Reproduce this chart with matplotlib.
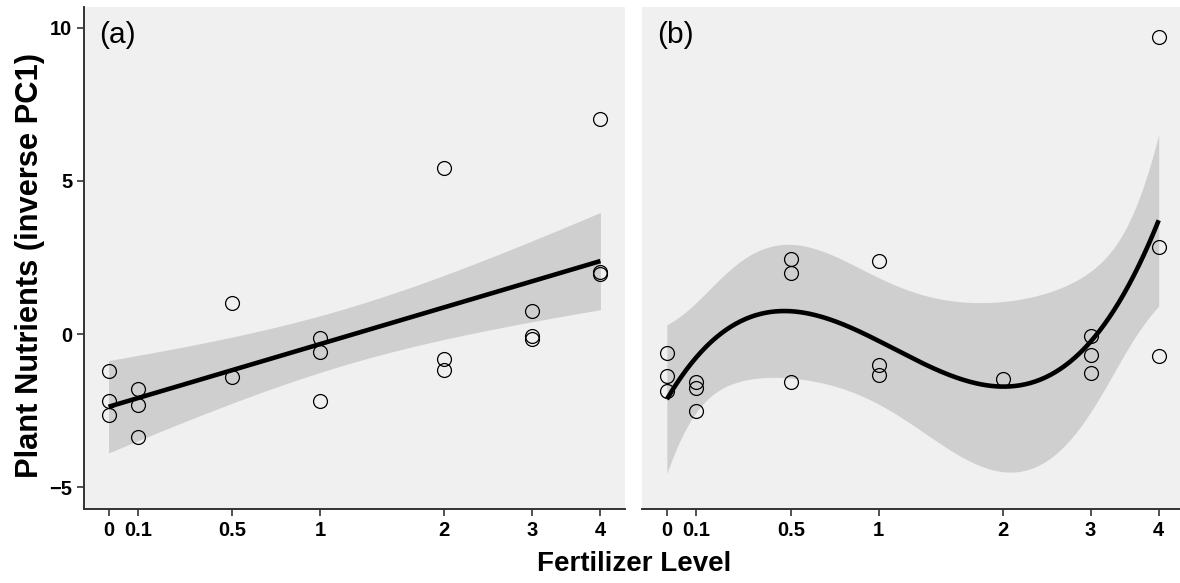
import math
import numpy as np
import matplotlib
matplotlib.use("Agg")
import matplotlib.pyplot as plt

# Fertilizer levels and plant nutrient scores (inverse PC1) for each panel
fert_a = [0, 0, 0, 0.1, 0.1, 0.1, 0.5, 0.5, 1, 1, 1, 2, 2, 2, 3, 3, 3, 4, 4, 4]
nutr_a = [-1.20, -2.18, -2.63, -1.80, -2.30, -3.35, 1.02, -1.41,
          -0.12, -0.57, -2.17, 5.41, -0.81, -1.16, 0.75, -0.07, -0.15,
          7.02, 2.02, 1.95]

fert_b = [0, 0, 0, 0.1, 0.1, 0.1, 0.5, 0.5, 0.5, 1, 1, 1, 2, 3, 3, 3, 4, 4, 4]
nutr_b = [-0.61, -1.36, -1.86, -1.58, -1.77, -2.50, 2.44, 2.00, -1.56,
          2.38, -1.01, -1.32, -1.48, -0.07, -0.67, -1.27, 9.71, 2.83, -0.73]

x_ticks = [0, 0.1, 0.5, 1, 2, 3, 4]
x_tick_labels = ["0", "0.1", "0.5", "1", "2", "3", "4"]
y_ticks = [-5, 0, 5, 10]
panel_labels = ["(a)", "(b)"]


def t_quantile(p, df):
    """Quantile of Student's t via numeric CDF and bisection."""
    c = math.gamma((df + 1) / 2) / (math.sqrt(df * math.pi) * math.gamma(df / 2))

    def cdf(t):
        xs = np.linspace(0, t, 4001)
        pdf = c * (1 + xs ** 2 / df) ** (-(df + 1) / 2)
        return 0.5 + np.trapezoid(pdf, xs)

    lo, hi = 0.0, 20.0
    for _ in range(80):
        mid = (lo + hi) / 2
        if cdf(mid) < p:
            lo = mid
        else:
            hi = mid
    return (lo + hi) / 2


def poly_fit_band(x, y, degree, grid):
    """OLS polynomial fit on log1p(x) with a 95% confidence band."""
    u = np.log1p(np.asarray(x, float))
    y = np.asarray(y, float)
    ug = np.log1p(grid)
    X = np.vander(u, degree + 1, increasing=True)
    Xg = np.vander(ug, degree + 1, increasing=True)
    beta, *_ = np.linalg.lstsq(X, y, rcond=None)
    resid = y - X @ beta
    df = len(y) - (degree + 1)
    s2 = resid @ resid / df
    cov = s2 * np.linalg.inv(X.T @ X)
    fit = Xg @ beta
    se = np.sqrt(np.einsum("ij,jk,ik->i", Xg, cov, Xg))
    tq = t_quantile(0.975, df)
    return fit, fit - tq * se, fit + tq * se


plt.rcParams["font.family"] = ["Liberation Sans", "DejaVu Sans"]

fig = plt.figure(figsize=(11.8, 5.83), dpi=100)
W, H = 1180, 583
ax_w = 541 / W
ax_b = (H - 509.3) / H
ax_h = (509.3 - 7.3) / H
ax_a = fig.add_axes([84 / W, ax_b, ax_w, ax_h])
ax_bb = fig.add_axes([642.3 / W, ax_b, ax_w, ax_h])

u_max = math.log1p(4)
pad = 0.05 * u_max
xlim = (math.expm1(-pad), math.expm1(u_max + pad))
grid = np.expm1(np.linspace(0, u_max, 300))

panel_bg = "#f0f0f0"
band_col = "#cfcfcf"
tick_fs = 14.5

for ax, fx, ny, deg, lab in [(ax_a, fert_a, nutr_a, 1, panel_labels[0]),
                             (ax_bb, fert_b, nutr_b, 3, panel_labels[1])]:
    ax.set_xscale("function", functions=(np.log1p, np.expm1))
    ax.set_facecolor(panel_bg)
    fit, lo, hi = poly_fit_band(fx, ny, deg, grid)
    ax.fill_between(grid, lo, hi, color=band_col, lw=0, zorder=1)
    ax.plot(grid, fit, color="black", lw=3.3, zorder=2, solid_capstyle="butt")
    ax.plot(fx, ny, linestyle="none", marker="o", ms=10, mfc="none",
            mec="black", mew=0.9, zorder=3)
    ax.set_xlim(*xlim)
    ax.set_ylim(-5.72, 10.67)
    ax.set_xticks(x_ticks)
    ax.set_xticklabels(x_tick_labels, fontsize=tick_fs, fontweight="bold")
    ax.set_yticks(y_ticks)
    ax.tick_params(axis="both", length=5, width=1.2, color="#333333",
                   labelcolor="black", pad=3.5)
    for side in ["top", "right"]:
        ax.spines[side].set_visible(False)
    ax.spines["bottom"].set_linewidth(1.4)
    ax.spines["bottom"].set_color("#333333")
    ax.spines["left"].set_linewidth(1.4)
    ax.spines["left"].set_color("#333333")
    ax.text(0.028, 0.945, lab, transform=ax.transAxes, fontsize=21.5,
            ha="left", va="center")

ax_a.set_yticklabels([str(v) if v >= 0 else "\u2212" + str(-v) for v in y_ticks],
                     fontsize=tick_fs, fontweight="bold")
ax_bb.spines["left"].set_visible(False)
ax_bb.tick_params(axis="y", left=False, labelleft=False)

fig.text(30 / W, (H - 265) / H, "Plant Nutrients (inverse PC1)", rotation=90,
         fontsize=22.2, fontweight="bold", ha="center", va="center")
fig.text(634 / W, (H - 564) / H, "Fertilizer Level", fontsize=20,
         fontweight="bold", ha="center", va="center")

fig.savefig("out.png", dpi=100)
